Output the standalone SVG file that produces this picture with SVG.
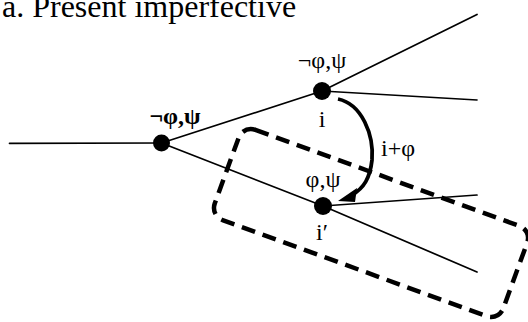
<svg xmlns="http://www.w3.org/2000/svg" width="528" height="322" viewBox="0 0 528 322">
<style>
.t{font-family:"Liberation Serif","Times New Roman",serif;fill:#000}
.lbl{font-size:24px;text-anchor:middle}
.edge{fill:none;stroke:#000;stroke-width:1.7;stroke-linecap:round;stroke-linejoin:round}
.dot{fill:#000}
</style>
<rect width="528" height="322" fill="#fff"/>
<text class="t" x="2" y="16.5" font-size="32">a. Present imperfective</text>
<g id="connectors">
<path class="edge" d="M9.5,143.3 L161.5,143"/>
<path class="edge" d="M161.5,143 L322,91 L477,14.5"/>
<path class="edge" d="M322,91 L477,100"/>
<path class="edge" d="M161.5,143 L323,206 L477,272"/>
<path class="edge" d="M323,206 L477,195"/>
</g>
<g id="region">
<rect x="217.5" y="175" width="307" height="96" rx="13" transform="rotate(20 371 223)" fill="none" stroke="#000" stroke-width="4.5" stroke-dasharray="14 8"/>
</g>
<g id="arrow">
<path d="M338,99 C362,104 374,135 372,160 C370,178 364,188 352,195" fill="none" stroke="#000" stroke-width="3.8"/>
<polygon points="338,201 357,188 355,202" fill="#000"/>
<text class="t" x="381" y="156" font-size="24">i+φ</text>
</g>
<g id="n0">
<circle class="dot" cx="161.5" cy="143" r="8.5"/>
<text class="t lbl" x="175" y="124" font-weight="bold">¬φ,ψ</text>
</g>
<g id="n1">
<circle class="dot" cx="322" cy="91" r="9"/>
<text class="t lbl" x="322" y="68">¬φ,ψ</text>
<text class="t lbl" x="322" y="127">i</text>
</g>
<g id="n2">
<circle class="dot" cx="323" cy="206" r="9"/>
<text class="t lbl" x="323" y="187">φ,ψ</text>
<text class="t lbl" x="322" y="240">i′</text>
</g>
</svg>
